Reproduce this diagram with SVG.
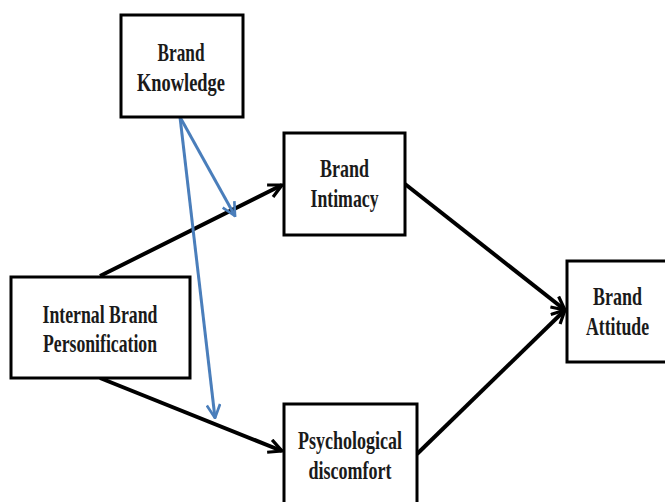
<svg xmlns="http://www.w3.org/2000/svg" width="665" height="502" viewBox="0 0 665 502">
<style>
.box{fill:#fff;stroke:#000;stroke-width:3}
.t{font-family:"Liberation Serif","Times New Roman",serif;font-weight:bold;font-size:25px;fill:#1a1a1a;text-anchor:middle}
.a{stroke:#000;stroke-width:4;fill:none}
.b{stroke:#4a7ebb;stroke-width:3;fill:none}
</style>
<defs>
<marker id="ah" viewBox="0 0 12 12" refX="11" refY="6" markerWidth="16" markerHeight="16" markerUnits="userSpaceOnUse" orient="auto">
<path d="M1,1 L11,6 L1,11" fill="none" stroke="#000" stroke-width="2.4"/>
</marker>
<marker id="bh" viewBox="0 0 12 12" refX="11" refY="6" markerWidth="16" markerHeight="16" markerUnits="userSpaceOnUse" orient="auto">
<path d="M1,1 L11,6 L1,11" fill="none" stroke="#4a7ebb" stroke-width="2"/>
</marker>
</defs>
<rect width="665" height="502" fill="#fff"/>
<g id="connectors">
<line class="a" x1="100" y1="276" x2="282" y2="185" marker-end="url(#ah)"/>
<line class="a" x1="100" y1="378" x2="282" y2="451" marker-end="url(#ah)"/>
<line class="a" x1="405" y1="184" x2="565" y2="310" marker-end="url(#ah)"/>
<line class="a" x1="417" y1="454" x2="565" y2="310" marker-end="url(#ah)"/>
<line class="b" x1="180" y1="117" x2="235" y2="216" marker-end="url(#bh)"/>
<line class="b" x1="180" y1="117" x2="215" y2="418" marker-end="url(#bh)"/>
</g>
<g id="brand-knowledge">
<rect class="box" x="121" y="15" width="122" height="102"/>
<text class="t" x="181" y="61" textLength="47" lengthAdjust="spacingAndGlyphs">Brand</text>
<text class="t" x="181" y="91" textLength="88" lengthAdjust="spacingAndGlyphs">Knowledge</text>
</g>
<g id="internal-brand-personification">
<rect class="box" x="11" y="277" width="179" height="101"/>
<text class="t" x="100" y="323" textLength="115" lengthAdjust="spacingAndGlyphs">Internal Brand</text>
<text class="t" x="100" y="352" textLength="114" lengthAdjust="spacingAndGlyphs">Personification</text>
</g>
<g id="brand-intimacy">
<rect class="box" x="284" y="133" width="121" height="102"/>
<text class="t" x="344.5" y="177" textLength="49" lengthAdjust="spacingAndGlyphs">Brand</text>
<text class="t" x="344.5" y="207" textLength="68" lengthAdjust="spacingAndGlyphs">Intimacy</text>
</g>
<g id="psychological-discomfort">
<rect class="box" x="284" y="404" width="133" height="110"/>
<text class="t" x="350" y="449" textLength="104" lengthAdjust="spacingAndGlyphs">Psychological</text>
<text class="t" x="350" y="479" textLength="83" lengthAdjust="spacingAndGlyphs">discomfort</text>
</g>
<g id="brand-attitude">
<rect class="box" x="567" y="261" width="110" height="101"/>
<text class="t" x="617.5" y="305" textLength="49" lengthAdjust="spacingAndGlyphs">Brand</text>
<text class="t" x="617.5" y="335" textLength="63" lengthAdjust="spacingAndGlyphs">Attitude</text>
</g>
</svg>
